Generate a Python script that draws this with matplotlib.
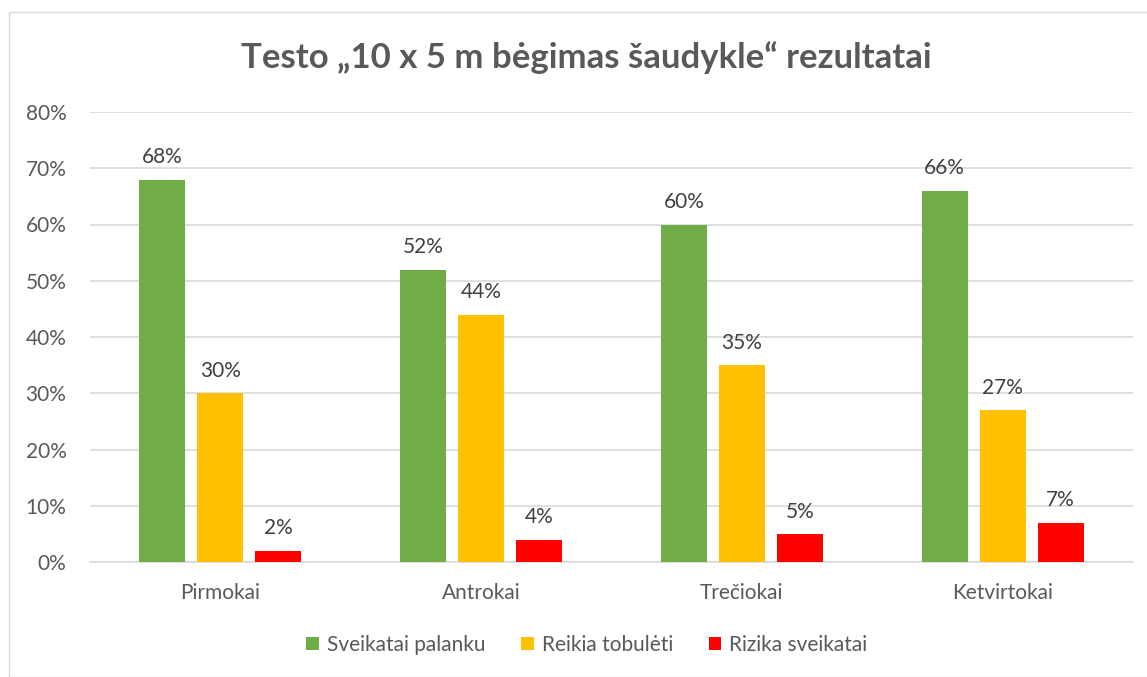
import matplotlib
matplotlib.use("Agg")
import matplotlib.pyplot as plt
from matplotlib.patches import Rectangle
import numpy as np

plt.rcParams['font.family'] = ['Lato', 'DejaVu Sans']

title = "Testo „10 x 5 m bėgimas šaudykle“ rezultatai"
categories = ["Pirmokai", "Antrokai", "Trečiokai", "Ketvirtokai"]
series_names = ["Sveikatai palanku", "Reikia tobulėti", "Rizika sveikatai"]
palanku = [68, 52, 60, 66]
tobuleti = [30, 44, 35, 27]
rizika = [2, 4, 5, 7]
colors = ["#70AD47", "#FFC000", "#FF0000"]

text_gray = "#595959"

fig = plt.figure(figsize=(11.47, 6.77), dpi=100)
ax = fig.add_axes([90 / 1147, 1 - 562 / 677, 1043 / 1147, 450 / 677])

# chart frame
fig.patches.append(Rectangle((9 / 1147, 0), 1.2, 1 - 12 / 677, transform=fig.transFigure,
                             fill=False, edgecolor="#D9D9D9", linewidth=1.0))

x = np.arange(len(categories))
width = 46 / 260.75
step = 58 / 260.75

for i, (vals, name, col) in enumerate(zip([palanku, tobuleti, rizika], series_names, colors)):
    pos = x + (i - 1) * step
    ax.bar(pos, vals, width=width, color=col, label=name, zorder=3)
    for p, v in zip(pos, vals):
        ax.text(p, v + 2.2, "%d%%" % v, ha="center", va="bottom",
                fontsize=15, color="#404040")

ax.set_xlim(-0.5, len(categories) - 0.5)
ax.set_ylim(0, 80)
ax.set_yticks(range(0, 81, 10))
ax.set_yticklabels(["%d%%" % t for t in range(0, 81, 10)])
ax.set_xticks(x)
ax.set_xticklabels(categories)
ax.tick_params(axis="both", length=0, labelsize=15, colors=text_gray)
ax.tick_params(axis="x", pad=15)
ax.tick_params(axis="y", pad=17)
ax.grid(axis="y", color="#D9D9D9", linewidth=1.2, zorder=0)
for s in ["top", "right", "left"]:
    ax.spines[s].set_visible(False)
ax.spines["bottom"].set_color("#D9D9D9")
ax.spines["bottom"].set_linewidth(1.2)

fig.text(586 / 1147, 1 - 58 / 677, title, ha="center", va="center",
         fontsize=25, fontweight="bold", color=text_gray)

fig.legend(loc="center", bbox_to_anchor=(587 / 1147, 1 - 645 / 677), ncol=3,
           frameon=False, fontsize=15, labelcolor=text_gray, handlelength=0.6,
           handleheight=0.6, handletextpad=0.4, columnspacing=1.7)

fig.savefig("out.png", dpi=100)
